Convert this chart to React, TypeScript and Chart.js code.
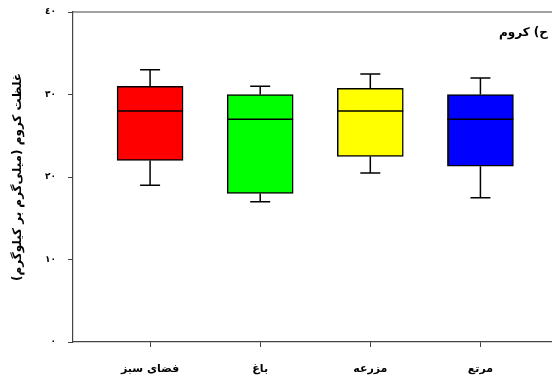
import React, { useEffect, useRef } from "react";
import { Chart, registerables } from "chart.js";

Chart.register(...registerables);

const categories = ["فضای سبز", "باغ", "مزرعه", "مرتع"];
const whiskerMin = [19, 17, 20.5, 17.5];
const q1 = [22, 18, 22.5, 21.3];
const median = [28, 27, 28, 27];
const q3 = [31, 30, 30.75, 30];
const whiskerMax = [33, 31, 32.5, 32];
const boxColors = ["#ff0000", "#00ff00", "#ffff00", "#0000ff"];
const yTickValues = [0, 10, 20, 30, 40];
const yTickLabels = ["٠", "١٠", "٢٠", "٣٠", "٤٠"];
const chartTitle = "ح) کروم";
const yTitle = "غلظت کروم (میلی‌گرم بر کیلوگرم)";

const FONT = "'DejaVu Sans', sans-serif";

const boxPlugin = {
  id: "boxExtras",
  afterDatasetsDraw(chart: any) {
    const ctx = chart.ctx;
    const xs = chart.scales.x;
    const ys = chart.scales.y;
    const meta = chart.getDatasetMeta(0);
    ctx.save();
    ctx.strokeStyle = "#000";
    ctx.lineWidth = 1.5;
    categories.forEach((_, i) => {
      const px = xs.getPixelForValue(i + 1);
      const bar = meta.data[i];
      const half = bar ? bar.width / 2 : 33;
      const cap = 10;
      const yTop = ys.getPixelForValue(whiskerMax[i]);
      const yQ3 = ys.getPixelForValue(q3[i]);
      const yQ1 = ys.getPixelForValue(q1[i]);
      const yBot = ys.getPixelForValue(whiskerMin[i]);
      const yMed = ys.getPixelForValue(median[i]);
      ctx.beginPath();
      ctx.moveTo(px, yTop);
      ctx.lineTo(px, yQ3);
      ctx.moveTo(px, yQ1);
      ctx.lineTo(px, yBot);
      ctx.moveTo(px - cap, yTop);
      ctx.lineTo(px + cap, yTop);
      ctx.moveTo(px - cap, yBot);
      ctx.lineTo(px + cap, yBot);
      ctx.moveTo(px - half, yMed);
      ctx.lineTo(px + half, yMed);
      ctx.stroke();
    });
    // top frame line
    const area = chart.chartArea;
    ctx.strokeStyle = "#444";
    ctx.lineWidth = 1.2;
    ctx.beginPath();
    ctx.moveTo(area.left, area.top);
    ctx.lineTo(area.right, area.top);
    ctx.stroke();
    // title
    ctx.fillStyle = "#000";
    ctx.font = `bold 12px ${FONT}`;
    ctx.direction = "rtl";
    ctx.textAlign = "right";
    ctx.textBaseline = "middle";
    ctx.fillText(chartTitle, 548, 33);
    ctx.restore();
  },
};

export default function App() {
  const ref = useRef<HTMLCanvasElement | null>(null);

  useEffect(() => {
    document.body.style.margin = "0";
    const canvas = ref.current;
    if (!canvas) return;
    const chart = new Chart(canvas, {
      type: "bar",
      data: {
        datasets: [
          {
            data: categories.map((_, i) => ({ x: i + 1, y: [q1[i], q3[i]] })) as any,
            backgroundColor: boxColors,
            borderColor: "#000",
            borderWidth: 1.5,
            borderSkipped: false,
            barThickness: 66,
          },
        ],
      },
      options: {
        animation: false,
        responsive: false,
        layout: { padding: { top: 12, right: 0, left: 0, bottom: 0 } },
        plugins: {
          legend: { display: false },
          tooltip: { enabled: false },
        },
        scales: {
          x: {
            type: "linear",
            min: 0.3,
            max: 4.65,
            offset: false,
            afterBuildTicks: (scale: any) => {
              scale.ticks = categories.map((_, i) => ({ value: i + 1 }));
            },
            afterFit: (scale: any) => {
              scale.height = 37;
              scale.paddingTop = 0;
              scale.paddingBottom = 0;
              scale.paddingLeft = 0;
              scale.paddingRight = 0;
            },
            border: { display: true, color: "#444", width: 1.2 },
            grid: {
              drawOnChartArea: false,
              drawTicks: true,
              tickLength: 5,
              tickColor: "#444",
              offset: false,
            },
            ticks: {
              autoSkip: false,
              maxRotation: 0,
              padding: 16,
              color: "#000",
              font: { family: FONT, size: 11, weight: "bold" },
              callback: (v: any) => categories[Math.round(v) - 1] ?? "",
            },
          },
          y: {
            type: "linear",
            min: 0,
            max: 40,
            afterBuildTicks: (scale: any) => {
              scale.ticks = yTickValues.map((v) => ({ value: v }));
            },
            afterFit: (scale: any) => {
              scale.width = 73;
              scale.paddingTop = 0;
              scale.paddingBottom = 0;
              scale.paddingLeft = 0;
              scale.paddingRight = 0;
            },
            border: { display: true, color: "#444", width: 1.2 },
            grid: {
              drawOnChartArea: false,
              drawTicks: true,
              tickLength: 5,
              tickColor: "#444",
            },
            ticks: {
              padding: 12,
              color: "#000",
              font: { family: FONT, size: 9, weight: "bold" },
              callback: (v: any) => yTickLabels[yTickValues.indexOf(v)] ?? "",
            },
            title: {
              display: true,
              text: yTitle,
              color: "#000",
              font: { family: FONT, size: 12, weight: "bold" },
              padding: { top: 11, bottom: 0 },
            },
          },
        },
      } as any,
      plugins: [boxPlugin],
    });
    return () => chart.destroy();
  }, []);

  return (
    <div style={{ width: 552, height: 379 }}>
      <canvas ref={ref} width={552} height={379} />
    </div>
  );
}
